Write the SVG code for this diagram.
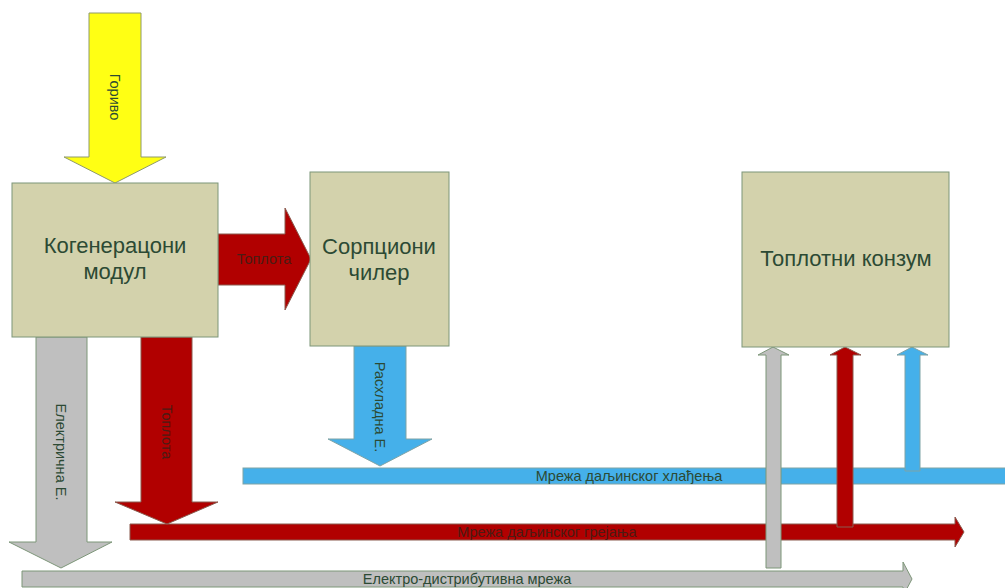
<svg xmlns="http://www.w3.org/2000/svg" width="1005" height="588" viewBox="0 0 1005 588">
  <style>
    .box { fill: #d3d2ac; stroke: #7d9679; stroke-width: 1; }
    .big { font-family: "Liberation Sans", Arial, sans-serif; font-size: 22px; fill: #2c4a34; text-anchor: middle; }
    .lbl { font-family: "Liberation Sans", Arial, sans-serif; font-size: 14.5px; fill: #2c4a34; text-anchor: middle; dominant-baseline: central; }
    .dark { fill: #4a1c14; }
    .yellow { fill: #ffff14; stroke: #8f9a6a; stroke-width: 1; }
    .red { fill: #b10000; stroke: #8a5a4e; stroke-width: 1; }
    .grey { fill: #bfbfbf; stroke: #7d9679; stroke-width: 1; }
    .blue { fill: #45b0ea; stroke: #7fa3a6; stroke-width: 1; }
  </style>

  <!-- network bars -->
  <g id="connectors">
    <g id="grid-electric">
      <polygon class="grey" points="22,571 903,571 903,562 912,579 903,596 903,587 22,587"/>
      <text class="lbl" x="467" y="579">Електро-дистрибутивна мрежа</text>
    </g>
    <g id="grid-heating">
      <polygon class="red" points="130,524 955,524 955,517 964,532 955,547 955,540 130,540"/>
      <text class="lbl dark" x="547" y="532">Мрежа даљинског грејања</text>
    </g>
    <g id="grid-cooling">
      <rect class="blue" x="243" y="468" width="770" height="16"/>
      <text class="lbl" x="629" y="476">Мрежа даљинског хлађења</text>
    </g>

    <!-- flows -->
    <g id="flow-fuel">
      <polygon class="yellow" points="89,13 141,13 141,157 166,157 115,183 64,157 89,157"/>
      <text class="lbl" transform="translate(115,97) rotate(90)">Гориво</text>
    </g>
    <g id="flow-heat-chiller">
      <polygon class="red" points="218,234 285,234 285,208 311,259 285,310 285,285 218,285"/>
      <text class="lbl dark" x="264" y="259">Топлота</text>
    </g>
    <g id="flow-electric">
      <polygon class="grey" points="36,337 87,337 87,542 112,542 61,568 9,542 36,542"/>
      <text class="lbl" transform="translate(61,452) rotate(90)">Електрична Е.</text>
    </g>
    <g id="flow-heat">
      <polygon class="red" points="141,337 192,337 192,502 218,502 167,524 115,502 141,502"/>
      <text class="lbl dark" transform="translate(167,432) rotate(90)">Топлота</text>
    </g>
    <g id="flow-cooling">
      <polygon class="blue" points="354,346 406,346 406,439 432,439 380,466 328,439 354,439"/>
      <text class="lbl" transform="translate(380,407) rotate(90)">Расхладна Е.</text>
    </g>

    <!-- supply to consumer -->
    <polygon id="supply-cooling" class="blue" points="905,471 920,471 920,355 928,355 912,347 897,355 905,355"/>
    <polygon id="supply-heat" class="red" points="837,527 853,527 853,355 861,355 845,347 830,355 837,355"/>
    <polygon id="supply-electric" class="grey" points="766,568 781,568 781,355 789,355 773,347 758,355 766,355"/>
  </g>

  <!-- nodes -->
  <g id="cogeneration">
    <rect class="box" x="12" y="183" width="206" height="154"/>
    <text class="big" x="115" y="253">Когенерацони</text>
    <text class="big" x="115" y="279">модул</text>
  </g>
  <g id="chiller">
    <rect class="box" x="310" y="172" width="139" height="174"/>
    <text class="big" x="379" y="254">Сорпциони</text>
    <text class="big" x="379" y="280">чилер</text>
  </g>
  <g id="consumer">
    <rect class="box" x="742" y="172" width="207" height="175"/>
    <text class="big" x="846" y="266">Топлотни конзум</text>
  </g>
</svg>
